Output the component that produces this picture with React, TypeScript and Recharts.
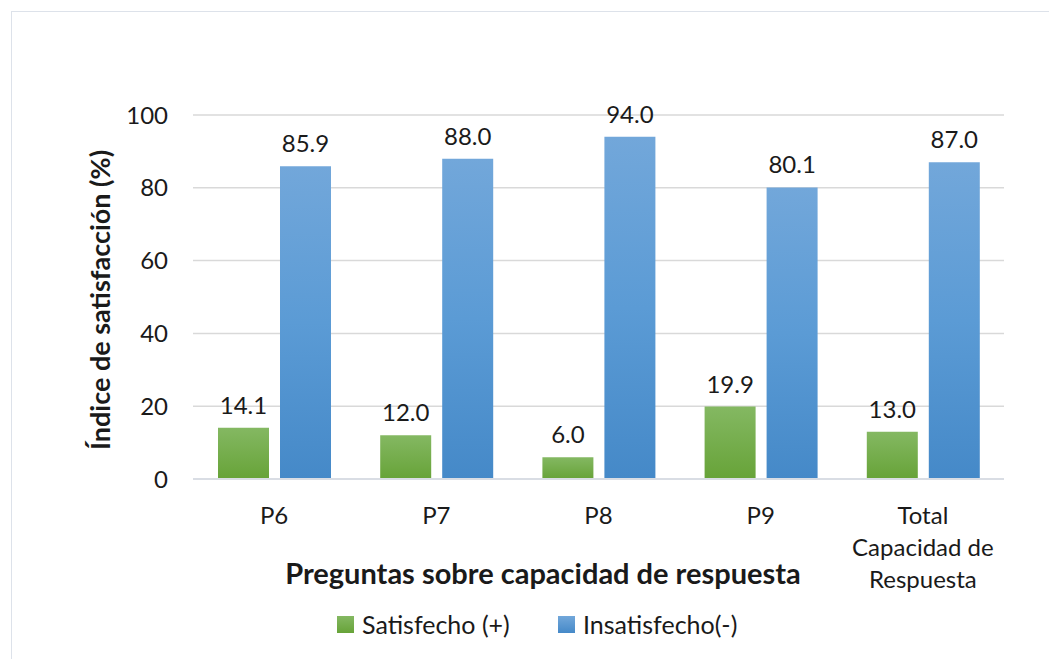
import {
  BarChart,
  Bar,
  XAxis,
  YAxis,
  CartesianGrid,
  LabelList,
  Legend,
  Label,
} from "recharts";

const preguntas = ["P6", "P7", "P8", "P9", "Total Capacidad de Respuesta"];
const satisfecho = [14.1, 12.0, 6.0, 19.9, 13.0];
const insatisfecho = [85.9, 88.0, 94.0, 80.1, 87.0];
const yTicks = [0, 20, 40, 60, 80, 100];

// lines used when a category name is too long for one row
const tickLines: Record<string, string[]> = {
  "Total Capacidad de Respuesta": ["Total", "Capacidad de", "Respuesta"],
};

const data = preguntas.map((p, i) => ({
  pregunta: p,
  satisfecho: satisfecho[i],
  insatisfecho: insatisfecho[i],
}));

const FONT = "Lato, 'Open Sans', sans-serif";
const TEXT = "#1a1a1a";

function CategoryTick({ x, y, payload }: any) {
  const lines = tickLines[payload.value] ?? [payload.value];
  return (
    <text
      x={x}
      y={y + 43}
      textAnchor="middle"
      fontFamily={FONT}
      fontSize={24}
      fill={TEXT}
    >
      {lines.map((l, i) => (
        <tspan key={l} x={x} dy={i === 0 ? 0 : 32}>
          {l}
        </tspan>
      ))}
    </text>
  );
}

function LegendBox() {
  const items = [
    { name: "Satisfecho (+)", c1: "#84b862", c2: "#67a338" },
    { name: "Insatisfecho(-)", c1: "#72a7da", c2: "#4589c8" },
  ];
  return (
    <div style={{ display: "flex", fontFamily: FONT, fontSize: 25, color: TEXT }}>
      {items.map((it) => (
        <div
          key={it.name}
          style={{ display: "flex", alignItems: "center", width: 221 }}
        >
          <span
            style={{
              width: 17,
              height: 17,
              marginRight: 8,
              background: `linear-gradient(${it.c1}, ${it.c2})`,
            }}
          />
          <span>{it.name}</span>
        </div>
      ))}
    </div>
  );
}

export default function App() {
  return (
    <div
      style={{
        position: "relative",
        width: 1049,
        height: 651,
        overflow: "hidden",
        background: "#fff",
      }}
    >
      <div
        style={{
          position: "absolute",
          left: 3,
          top: 3,
          width: 1200,
          height: 800,
          border: "1.5px solid #dde2ea",
        }}
      />
      <BarChart
        width={1049}
        height={651}
        data={data}
        margin={{ top: 107, right: 53, left: 0, bottom: 0 }}
        barSize={51}
        barGap={11}
        style={{ position: "absolute", left: 0, top: 0 }}
      >
        <defs>
          <linearGradient id="gradVerde" x1="0" y1="0" x2="0" y2="1">
            <stop offset="0%" stopColor="#84b862" />
            <stop offset="100%" stopColor="#67a338" />
          </linearGradient>
          <linearGradient id="gradAzul" x1="0" y1="0" x2="0" y2="1">
            <stop offset="0%" stopColor="#72a7da" />
            <stop offset="50%" stopColor="#5b9bd5" />
            <stop offset="100%" stopColor="#4589c8" />
          </linearGradient>
        </defs>
        <CartesianGrid vertical={false} stroke="#d9d9d9" strokeWidth={1.5} />
        <XAxis
          dataKey="pregunta"
          height={180}
          tickLine={false}
          tickSize={0}
          interval={0}
          axisLine={{ stroke: "#d9dde4", strokeWidth: 2 }}
          tick={<CategoryTick />}
        >
          <Label
            content={() => (
              <text
                x={535}
                y={576}
                textAnchor="middle"
                fontFamily={FONT}
                fontSize={29}
                fontWeight={700}
                fill={TEXT}
              >
                Preguntas sobre capacidad de respuesta
              </text>
            )}
          />
        </XAxis>
        <YAxis
          width={185}
          domain={[0, 100]}
          ticks={yTicks}
          axisLine={false}
          tickLine={false}
          tickMargin={19}
          tick={{ fontFamily: FONT, fontSize: 24, fill: TEXT }}
        >
          <Label
            content={() => (
              <text
                x={91}
                y={292}
                transform="rotate(-90 91 292)"
                textAnchor="middle"
                dominantBaseline="central"
                fontFamily={FONT}
                fontSize={27}
                fontWeight={700}
                fill={TEXT}
              >
                Índice de satisfacción (%)
              </text>
            )}
          />
        </YAxis>
        <Legend
          verticalAlign="middle"
          align="center"
          content={<LegendBox />}
          wrapperStyle={{ left: 329, top: 601, width: 460 }}
        />
        <Bar
          dataKey="satisfecho"
          name="Satisfecho (+)"
          fill="url(#gradVerde)"
          isAnimationActive={false}
        >
          <LabelList
            dataKey="satisfecho"
            position="top"
            offset={14}
            formatter={(v: any) => Number(v).toFixed(1)}
            style={{ fontFamily: FONT, fontSize: 24, fill: TEXT }}
          />
        </Bar>
        <Bar
          dataKey="insatisfecho"
          name="Insatisfecho(-)"
          fill="url(#gradAzul)"
          isAnimationActive={false}
        >
          <LabelList
            dataKey="insatisfecho"
            position="top"
            offset={14}
            formatter={(v: any) => Number(v).toFixed(1)}
            style={{ fontFamily: FONT, fontSize: 24, fill: TEXT }}
          />
        </Bar>
      </BarChart>
    </div>
  );
}
